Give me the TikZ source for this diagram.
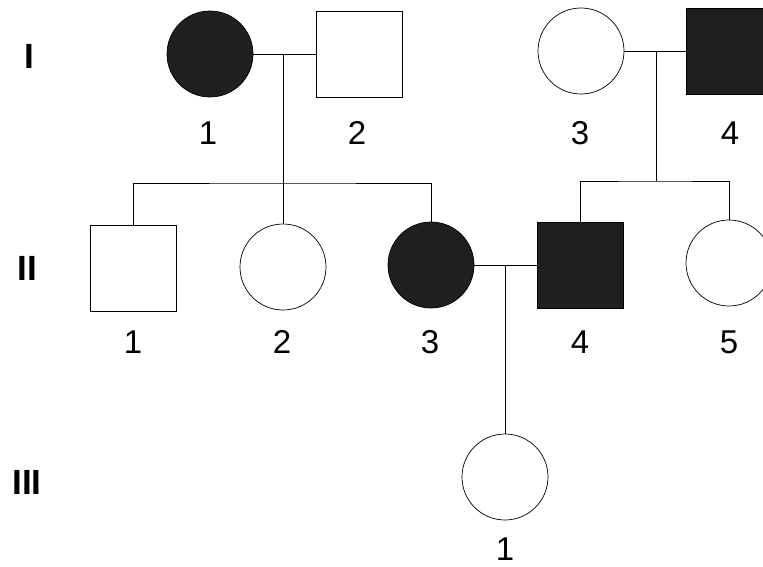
\documentclass[tikz,border=0pt]{standalone}
\usepackage{fontspec}
\setmainfont{Liberation Sans}
\begin{document}
\begin{tikzpicture}[x=1pt,y=-1pt,line width=0.7pt,
	female/.style={draw,circle,inner sep=0pt,minimum size=86pt},
	male/.style={draw,rectangle,inner sep=0pt,minimum size=86pt},
	ill/.style={fill=black!88},
	num/.style={inner sep=0pt,font=\fontsize{33}{33}\selectfont},
	gen/.style={inner sep=0pt,font=\bfseries\fontsize{35}{35}\selectfont}]
\useasboundingbox (0,0) rectangle (763,567);
%%% Generation labels
\node[gen] (gI) at (29,56) {I};
\node[gen] (gII) at (27,268) {II};
\node[gen] (gIII) at (27,482) {III};
%%% Generation I
\node[female,ill] (I1) at (210,54) {};
\node[male] (I2) at (359,54) {};
\node[female] (I3) at (581,51) {};
\node[male,ill] (I4) at (729,51) {};
%%% Generation II
\node[male] (II1) at (133,268) {};
\node[female] (II2) at (283,267) {};
\node[female,ill] (II3) at (431,265) {};
\node[male,ill] (II4) at (580,265) {};
\node[female] (II5) at (729,263) {};
%%% Generation III
\node[female] (III1) at (505,477) {};
%%% Numbers under the symbols
\foreach \n/\x in {1/208,2/357,3/580,4/730}
{
	\node[num] (nI\n) at (\x,133) {\n};
}
\foreach \n/\x in {1/133,2/282,3/430,4/580,5/729}
{
	\node[num] (nII\n) at (\x,342) {\n};
}
\node[num] (nIII1) at (505,549) {1};
%%% Marriages and descent lines
\coordinate (m1) at (283,54);
\coordinate (s1) at (283,183);
\draw (I1) -- (I2);
\draw (m1) -- (s1);
\draw (II1.north) |- (s1) -| (II3.north);
\draw (s1) -- (II2.north);
\coordinate (m2) at (656,51);
\coordinate (s2) at (656,181);
\draw (I3) -- (I4);
\draw (m2) -- (s2);
\draw (II4.north) |- (s2) -| (II5.north);
\coordinate (m3) at (505,265);
\draw (II3) -- (II4);
\draw (m3) -- (III1.north);
\end{tikzpicture}
\end{document}
